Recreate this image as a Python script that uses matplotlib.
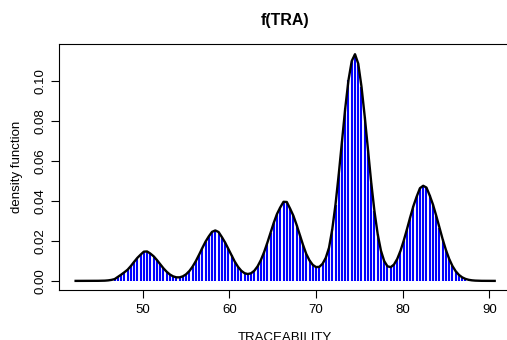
import numpy as np
import matplotlib
matplotlib.use("Agg")
import matplotlib.pyplot as plt

plt.rcParams["font.family"] = ["Liberation Sans", "DejaVu Sans"]

# density estimate of TRA (130 grid points, 42.25 .. 90.625)
x_start, x_end = 42.25, 90.625
density = [
    0.0, 0.0, 0.0, 0.0, 0.0, 0.00001, 0.00002, 0.00004, 0.00006, 0.00012,
    0.00025, 0.00049, 0.00089, 0.0020, 0.0031, 0.0043, 0.00560, 0.00742, 0.00951, 0.01149,
    0.0131, 0.0146, 0.0147, 0.01365, 0.0123, 0.01046, 0.0084, 0.00635, 0.00461, 0.00321,
    0.00227, 0.00178, 0.00177, 0.00227, 0.00329, 0.0049, 0.00712, 0.00987, 0.01307, 0.01643,
    0.01962, 0.02225, 0.0245, 0.0252, 0.0244, 0.02194, 0.01922, 0.01598, 0.01268, 0.00959,
    0.0070, 0.00505, 0.00384, 0.00342, 0.00381, 0.00506, 0.00722, 0.01031, 0.01428, 0.01897,
    0.02404, 0.02906, 0.03347, 0.03671, 0.0395, 0.0394, 0.03617, 0.03266, 0.0281, 0.02302,
    0.01799, 0.01345, 0.0102, 0.0080, 0.0069, 0.0070, 0.0085, 0.0115, 0.01655, 0.02576,
    0.03813, 0.05325, 0.06989, 0.08625, 0.1003, 0.1098, 0.1132, 0.1085, 0.0970, 0.08204,
    0.06543, 0.04906, 0.03466, 0.02322, 0.01502, 0.00987, 0.00729, 0.00686, 0.00817, 0.01095,
    0.01499, 0.02008, 0.02583, 0.03181, 0.03747, 0.04216, 0.0463, 0.0475, 0.0466, 0.04268,
    0.03816, 0.0326, 0.02659, 0.02072, 0.01542, 0.01096, 0.00744, 0.00483, 0.00299, 0.00177,
    0.0010, 0.00054, 0.00028, 0.00014, 0.00006, 0.00003, 0.00001, 0.0, 0.0, 0.0,
]
x = np.linspace(x_start, x_end, len(density))

x_ticks = [50, 60, 70, 80, 90]
y_ticks = [0.00, 0.02, 0.04, 0.06, 0.08, 0.10]

fig = plt.figure(figsize=(5.07, 3.40), dpi=100)
ax = fig.add_axes([59 / 507, 50 / 340, 452 / 507, 246 / 340])

ax.vlines(x, 0, density, colors="#0000FF", linewidth=1.5)
ax.plot(x, density, color="black", linewidth=1.7)

ax.set_xlim(40.33, 92.51)
ax.set_ylim(-0.00455, 0.1183)
ax.set_xticks(x_ticks)
ax.set_yticks(y_ticks)
ax.set_yticklabels([f"{v:.2f}" for v in y_ticks])
ax.tick_params(axis="both", length=6, width=0.8, labelsize=9.5, direction="out")
ax.tick_params(axis="x", pad=4)
ax.tick_params(axis="y", labelrotation=90, pad=3)
for lab in ax.get_yticklabels():
    lab.set_va("center")

for s in ax.spines.values():
    s.set_linewidth(0.8)

ax.set_title("f(TRA)", fontsize=11.5, fontweight="bold", pad=14)
ax.set_xlabel("TRACEABILITY", fontsize=9.5, labelpad=11.5)
ax.set_ylabel("density function", fontsize=9.5, labelpad=8.5)

fig.savefig("out.png", dpi=100)
